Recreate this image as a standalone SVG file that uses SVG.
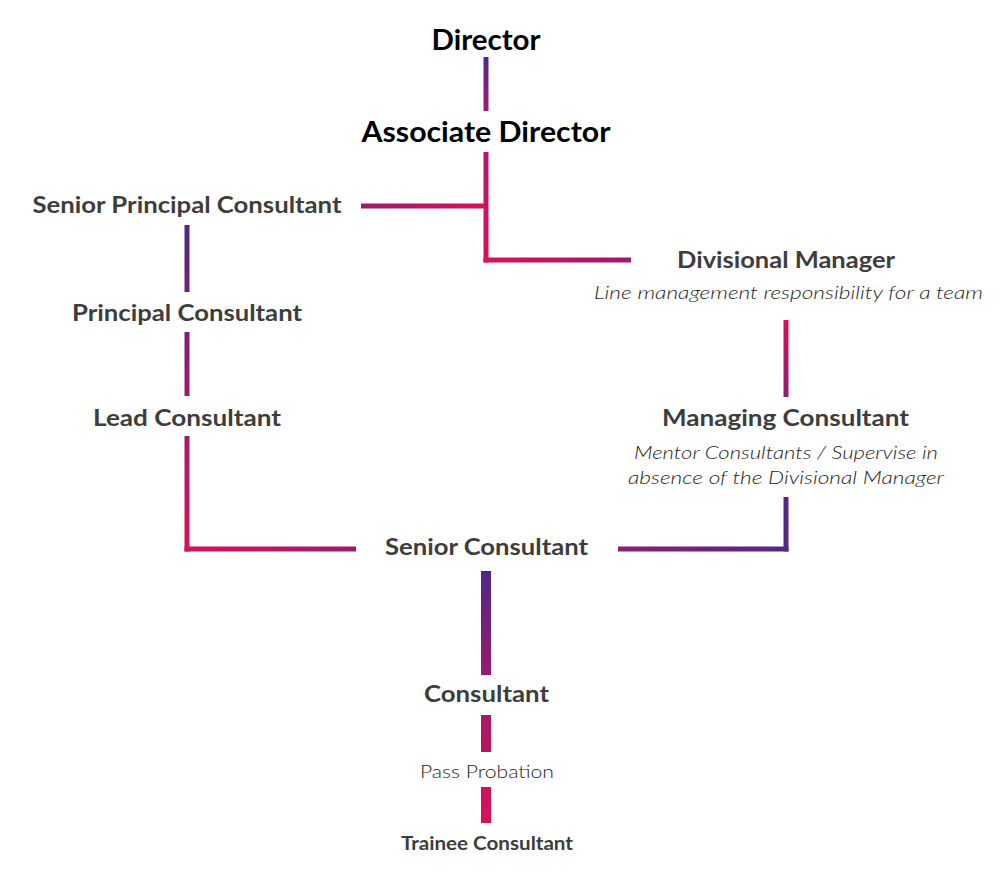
<svg xmlns="http://www.w3.org/2000/svg" width="1000" height="880" viewBox="0 0 1000 880">
<style>
text{font-family:Lato,"Noto Sans","Liberation Sans",sans-serif;text-anchor:middle}
.top{font-weight:700;font-size:28px;fill:#000}
.t{font-weight:700;font-size:22.5px;fill:#3d3d3d}
.s{font-weight:700;font-size:18px;fill:#3d3d3d}
.i{font-style:italic;font-weight:300;font-size:18.5px;fill:#1e1e1e}
.r{font-weight:300;font-size:17.5px;fill:#1e1e1e}
.c line{stroke-width:5;stroke-linecap:butt}
.c line.w{stroke-width:10}
</style>
<defs>
<linearGradient id="g1" gradientUnits="userSpaceOnUse" x1="0" y1="57" x2="0" y2="111"><stop offset="0" stop-color="#4a2b86"/><stop offset="1" stop-color="#a41a6b"/></linearGradient>
<linearGradient id="g2" gradientUnits="userSpaceOnUse" x1="0" y1="152" x2="0" y2="262"><stop offset="0" stop-color="#b3186a"/><stop offset="1" stop-color="#d8115a"/></linearGradient>
<linearGradient id="g3" gradientUnits="userSpaceOnUse" x1="361" y1="0" x2="486" y2="0"><stop offset="0" stop-color="#9c1a6d"/><stop offset="1" stop-color="#d8115a"/></linearGradient>
<linearGradient id="g4" gradientUnits="userSpaceOnUse" x1="486" y1="0" x2="631" y2="0"><stop offset="0" stop-color="#d8115a"/><stop offset="1" stop-color="#9c1a6d"/></linearGradient>
<linearGradient id="g5" gradientUnits="userSpaceOnUse" x1="0" y1="225" x2="0" y2="292"><stop offset="0" stop-color="#4c2a86"/><stop offset="1" stop-color="#6c2280"/></linearGradient>
<linearGradient id="g6" gradientUnits="userSpaceOnUse" x1="0" y1="332" x2="0" y2="396"><stop offset="0" stop-color="#7e1f79"/><stop offset="1" stop-color="#a01a6c"/></linearGradient>
<linearGradient id="g7" gradientUnits="userSpaceOnUse" x1="0" y1="436" x2="0" y2="549"><stop offset="0" stop-color="#a51a6a"/><stop offset="1" stop-color="#d8115a"/></linearGradient>
<linearGradient id="g8" gradientUnits="userSpaceOnUse" x1="187" y1="0" x2="356" y2="0"><stop offset="0" stop-color="#d8115a"/><stop offset="1" stop-color="#a01a6a"/></linearGradient>
<linearGradient id="g9" gradientUnits="userSpaceOnUse" x1="0" y1="320" x2="0" y2="397"><stop offset="0" stop-color="#d5115b"/><stop offset="1" stop-color="#8d1d74"/></linearGradient>
<linearGradient id="g10" gradientUnits="userSpaceOnUse" x1="0" y1="497" x2="0" y2="549"><stop offset="0" stop-color="#4f2886"/><stop offset="1" stop-color="#5a2483"/></linearGradient>
<linearGradient id="g11" gradientUnits="userSpaceOnUse" x1="618" y1="0" x2="786" y2="0"><stop offset="0" stop-color="#8a1e75"/><stop offset="1" stop-color="#552685"/></linearGradient>
<linearGradient id="g12" gradientUnits="userSpaceOnUse" x1="0" y1="571" x2="0" y2="675"><stop offset="0" stop-color="#4f2886"/><stop offset="1" stop-color="#961b6f"/></linearGradient>
<linearGradient id="g13" gradientUnits="userSpaceOnUse" x1="0" y1="715" x2="0" y2="752"><stop offset="0" stop-color="#a51a6a"/><stop offset="1" stop-color="#b8165f"/></linearGradient>
<linearGradient id="g14" gradientUnits="userSpaceOnUse" x1="0" y1="787" x2="0" y2="823"><stop offset="0" stop-color="#c8145e"/><stop offset="1" stop-color="#d8115a"/></linearGradient>
</defs>
<g id="connectors" class="c">
<line x1="486" y1="57" x2="486" y2="111" stroke="url(#g1)"/>
<line x1="486" y1="152" x2="486" y2="262.5" stroke="url(#g2)"/>
<line x1="361" y1="206" x2="486" y2="206" stroke="url(#g3)"/>
<line x1="483.5" y1="260" x2="631" y2="260" stroke="url(#g4)"/>
<line x1="187" y1="225" x2="187" y2="292" stroke="url(#g5)"/>
<line x1="187" y1="332" x2="187" y2="396" stroke="url(#g6)"/>
<line x1="187" y1="436" x2="187" y2="551.5" stroke="url(#g7)"/>
<line x1="184.5" y1="549" x2="356" y2="549" stroke="url(#g8)"/>
<line x1="786" y1="320" x2="786" y2="397" stroke="url(#g9)"/>
<line x1="786" y1="497" x2="786" y2="551.5" stroke="url(#g10)"/>
<line x1="618" y1="549" x2="788.5" y2="549" stroke="url(#g11)"/>
<line class="w" x1="486" y1="571" x2="486" y2="675" stroke="url(#g12)"/>
<line class="w" x1="486" y1="715" x2="486" y2="752" stroke="url(#g13)"/>
<line class="w" x1="486" y1="787" x2="486" y2="823" stroke="url(#g14)"/>
</g>
<g id="director"><text class="top" x="486" y="50" textLength="109" lengthAdjust="spacingAndGlyphs">Director</text></g>
<g id="associate-director"><text class="top" x="486" y="142" textLength="249" lengthAdjust="spacingAndGlyphs">Associate Director</text></g>
<g id="senior-principal-consultant"><text class="t" x="187" y="213" textLength="309" lengthAdjust="spacingAndGlyphs">Senior Principal Consultant</text></g>
<g id="principal-consultant"><text class="t" x="187" y="321" textLength="230" lengthAdjust="spacingAndGlyphs">Principal Consultant</text></g>
<g id="lead-consultant"><text class="t" x="187" y="426" textLength="188" lengthAdjust="spacingAndGlyphs">Lead Consultant</text></g>
<g id="divisional-manager"><text class="t" x="786" y="268" textLength="218" lengthAdjust="spacingAndGlyphs">Divisional Manager</text>
<text class="i" x="788.5" y="299" textLength="389" lengthAdjust="spacingAndGlyphs">Line management responsibility for a team</text></g>
<g id="managing-consultant"><text class="t" x="785.5" y="426" textLength="247" lengthAdjust="spacingAndGlyphs">Managing Consultant</text>
<text class="i" x="786" y="459" textLength="304" lengthAdjust="spacingAndGlyphs">Mentor Consultants / Supervise in</text>
<text class="i" x="786" y="484" textLength="316" lengthAdjust="spacingAndGlyphs">absence of the Divisional Manager</text></g>
<g id="senior-consultant"><text class="t" x="486.5" y="555" textLength="203" lengthAdjust="spacingAndGlyphs">Senior Consultant</text></g>
<g id="consultant"><text class="t" x="486.5" y="702" textLength="125" lengthAdjust="spacingAndGlyphs">Consultant</text></g>
<g id="pass-probation"><text class="r" x="487" y="778" textLength="134" lengthAdjust="spacingAndGlyphs">Pass Probation</text></g>
<g id="trainee-consultant"><text class="s" x="487" y="850" textLength="172" lengthAdjust="spacingAndGlyphs">Trainee Consultant</text></g>
</svg>
